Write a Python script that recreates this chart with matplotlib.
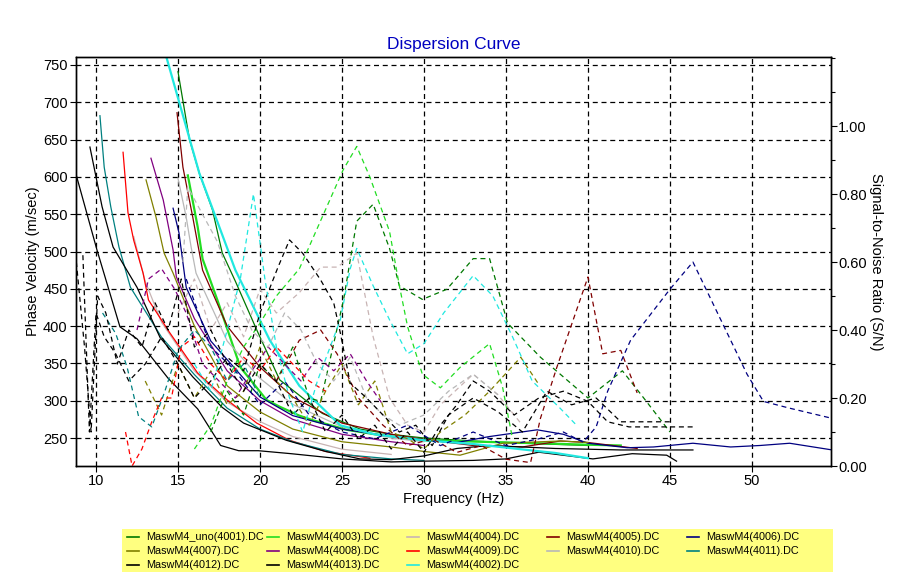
import matplotlib
matplotlib.use("Agg")
import matplotlib.pyplot as plt
from matplotlib.ticker import MultipleLocator
from matplotlib.lines import Line2D
from matplotlib.patches import Rectangle

plt.rcParams['font.family'] = ['Liberation Sans', 'DejaVu Sans']

# ---------------- data ----------------
names = ["MaswM4_uno(4001).DC", "MaswM4(4003).DC", "MaswM4(4004).DC", "MaswM4(4005).DC",
         "MaswM4(4006).DC", "MaswM4(4007).DC", "MaswM4(4008).DC", "MaswM4(4009).DC",
         "MaswM4(4010).DC", "MaswM4(4011).DC", "MaswM4(4012).DC", "MaswM4(4013).DC",
         "MaswM4(4002).DC"]
colors = ["#007800", "#22dd22", "#c8b4b4", "#800000", "#000080", "#808000", "#800080",
          "#ff0000", "#b8b8b8", "#008080", "#000000", "#000000", "#20e8e0"]

# dispersion curves (frequency Hz, phase velocity m/s)
f_4001 = [15.0, 15.7, 16.3, 17.1, 17.7, 18.5, 19.8, 21.2, 23.8, 26.1, 28, 30, 33, 36, 40]
v_4001 = [741, 650, 605, 556, 498, 460, 395, 328, 283, 262, 255, 250, 246, 243, 240]
f_4003 = [15.6, 16.2, 16.5, 17.4, 18.8, 20.4, 21.2, 22.4, 23.2, 25.3, 27.3, 30, 33.4, 37, 40, 42]
v_4003 = [602, 533, 490, 435, 345, 301, 292, 280, 274, 261, 254, 247, 245, 243, 241, 240]
f_4004 = [12.3, 13, 14, 16, 18, 20, 22, 25, 28]
v_4004 = [520, 460, 405, 340, 298, 272, 252, 235, 228]
f_4005 = [14.94, 15.3, 15.9, 16.5, 18, 20, 22, 25, 28, 30, 33, 36, 38.3, 40, 43]
v_4005 = [686, 613, 546, 475, 400, 345, 305, 270, 255, 248, 240, 238, 246, 244, 236]
f_4006 = [14.7, 15.06, 15.5, 17, 20, 22, 25, 28, 30, 32, 34, 36.9, 38.5, 40, 42.4, 44, 46.4,
          48.7, 50.5, 52.3, 54.9]
v_4006 = [558, 525, 452, 380, 305, 280, 262, 252, 247, 244, 252, 261, 255, 243, 237, 238, 243,
          238, 240, 243, 234]
f_4007 = [13.05, 13.66, 14.15, 14.7, 16, 18, 20, 22, 25, 28, 30, 32.2, 34.8, 38.3, 40]
v_4007 = [596, 546, 498, 471, 400, 320, 285, 262, 245, 238, 232, 227, 243, 246, 244]
f_4008 = [13.35, 14.1, 14.7, 14.9, 16, 18, 20, 22, 25, 28, 30]
v_4008 = [625, 569, 502, 466, 410, 340, 300, 275, 255, 245, 240]
f_4009 = [11.65, 11.95, 12.3, 12.87, 13.2, 14.5, 16.2, 18.0, 19.8, 21.8, 24, 26.7]
v_4009 = [633, 552, 515, 471, 435, 391, 337, 301, 270, 247, 232, 223]
f_4010 = [15.0, 15.5, 15.8, 16.1, 18, 20, 22, 25, 28, 30]
v_4010 = [598, 546, 506, 471, 380, 330, 295, 265, 250, 245]
f_4011 = [10.24, 10.5, 10.9, 11.4, 12.1, 14, 16, 18, 20, 22, 25, 28, 30]
v_4011 = [682, 613, 560, 506, 452, 385, 335, 290, 262, 245, 228, 222, 220]
f_4012 = [9.63, 10.37, 11.04, 12.5, 13.9, 15.9, 17.7, 19.0, 21.6, 24, 26.1, 28, 30, 32, 34,
          38, 42, 46.4]
v_4012 = [640, 560, 506, 452, 385, 332, 291, 270, 247, 232, 222, 221, 226, 236, 240, 236, 234, 234]
f_4013 = [8.8, 10.06, 11.46, 12.5, 14.4, 16.2, 17.6, 18.7, 19.9, 21.9, 25, 28, 30, 33, 35, 37,
          40.3, 42.7, 44.8, 45.4]
v_4013 = [602, 502, 399, 383, 330, 289, 240, 233, 233, 229, 222, 218, 219, 220, 222, 231, 222,
          229, 227, 219]
f_4002 = [14.0, 14.3, 16.3, 18.5, 20.6, 22.4, 24.9, 27, 30, 33, 36.3, 38, 40]
v_4002 = [800, 760, 605, 475, 381, 320, 267, 255, 247, 242, 234, 230, 223]

# signal-to-noise curves (frequency Hz, S/N)
sf_4001 = [17, 18, 19, 20, 21, 22, 23, 23.7, 25.1, 25.9, 26.9, 27.9, 28.5, 29.9, 31.4, 33.0,
           34.0, 35.1, 37.1, 40.0, 42.1, 43.4, 45.0]
sn_4001 = [0.10, 0.22, 0.15, 0.30, 0.25, 0.35, 0.20, 0.19, 0.49, 0.72, 0.77, 0.64, 0.53, 0.49,
           0.52, 0.61, 0.61, 0.42, 0.32, 0.20, 0.28, 0.20, 0.10]
sf_4003 = [16, 17, 18, 19, 20, 21, 22.4, 23.5, 25.06, 25.9, 26.7, 27.9, 28.5, 29.0, 29.9, 31.0,
           32.2, 34.0, 34.8, 35.4]
sn_4003 = [0.05, 0.12, 0.25, 0.35, 0.42, 0.50, 0.58, 0.70, 0.87, 0.94, 0.85, 0.69, 0.53, 0.41,
           0.27, 0.23, 0.29, 0.36, 0.23, 0.08]
sf_4004 = [15, 16, 17, 18, 19, 20, 21, 22.4, 23.7, 24.7, 25.9, 26.9, 27.9, 29, 30, 31, 33,
           34.5, 36]
sn_4004 = [0.45, 0.55, 0.40, 0.48, 0.38, 0.52, 0.45, 0.51, 0.585, 0.585, 0.626, 0.38, 0.20,
           0.12, 0.10, 0.18, 0.27, 0.21, 0.12]
sf_4005 = [21, 22.4, 23.7, 24.7, 26, 27.5, 29, 30.5, 32, 33.5, 35, 36.5, 37.1, 38.1, 40, 40.9,
           42, 43]
sn_4005 = [0.25, 0.37, 0.40, 0.33, 0.20, 0.12, 0.06, 0.08, 0.04, 0.06, 0.02, 0.01, 0.14, 0.29,
           0.556, 0.33, 0.34, 0.215]
sf_4006 = [15.5, 17, 18.5, 20, 21.5, 23, 25, 27, 29, 31, 33, 35, 37, 38.5, 39.7, 40.5, 41.2,
           42.6, 45, 46.4, 48, 49.7, 50.7, 52.3, 54.9]
sn_4006 = [0.55, 0.35, 0.28, 0.18, 0.25, 0.15, 0.10, 0.08, 0.12, 0.06, 0.10, 0.06, 0.08, 0.10,
           0.07, 0.115, 0.22, 0.37, 0.52, 0.60, 0.44, 0.27, 0.19, 0.17, 0.14]
sf_4007 = [13, 14, 15, 16, 17, 18, 19, 20, 21, 22, 23, 24, 25, 26, 27, 28, 29, 30, 31, 32.5,
           34, 35.9, 37]
sn_4007 = [0.25, 0.15, 0.30, 0.20, 0.28, 0.18, 0.22, 0.35, 0.25, 0.20, 0.12, 0.22, 0.30, 0.18,
           0.25, 0.10, 0.08, 0.05, 0.10, 0.15, 0.22, 0.32, 0.24]
sf_4008 = [12.5, 13.2, 14, 14.8, 15.5, 16.5, 17.5, 18.5, 19.5, 20.5, 21.5, 22.5, 23.5, 24.5,
           25.5, 26.5, 27.5]
sn_4008 = [0.40, 0.55, 0.58, 0.52, 0.45, 0.30, 0.25, 0.20, 0.28, 0.35, 0.30, 0.25, 0.32, 0.28,
           0.33, 0.25, 0.18]
sf_4009 = [11.8, 12.2, 12.8, 13.4, 14, 14.6, 15.2, 16, 17, 18, 19, 20, 21, 22, 23, 24]
sn_4009 = [0.10, 0.0, 0.05, 0.13, 0.20, 0.20, 0.35, 0.38, 0.30, 0.25, 0.32, 0.28, 0.35, 0.30,
           0.25, 0.22]
sf_4010 = [15.3, 15.6, 16.5, 17.4, 18.5, 19.5, 20.5, 21.5, 22.5, 23.5, 24.5, 25.5, 26.5, 27.5,
           28.5, 30, 31.5, 33, 34.5]
sn_4010 = [0.60, 0.82, 0.74, 0.66, 0.50, 0.40, 0.35, 0.45, 0.40, 0.30, 0.25, 0.32, 0.20, 0.15,
           0.12, 0.15, 0.22, 0.27, 0.21]
sf_4011 = [10.4, 11.2, 11.9, 12.6, 13.4, 14.2, 15, 16, 17, 18, 19, 20]
sn_4011 = [0.45, 0.39, 0.29, 0.145, 0.115, 0.22, 0.34, 0.40, 0.35, 0.25, 0.30, 0.20]
sf_4012 = [9.2, 9.6, 10.0, 10.5, 11.2, 12, 13, 14, 15, 16, 17, 18, 19, 20, 21.1, 21.8, 22.6,
           23.7, 24.5, 24.9, 25.5, 26.5, 27.5, 28.5, 29.5, 30.5, 31.5, 33, 34.5, 36, 37.5, 39,
           40.5, 42, 43.5, 45]
sn_4012 = [0.62, 0.10, 0.45, 0.38, 0.33, 0.25, 0.30, 0.38, 0.30, 0.20, 0.25, 0.32, 0.28, 0.45,
           0.585, 0.665, 0.626, 0.547, 0.479, 0.391, 0.244, 0.20, 0.15, 0.10, 0.12, 0.06, 0.15,
           0.20, 0.16, 0.10, 0.22, 0.18, 0.20, 0.13, 0.13, 0.13]
sf_4013 = [8.8, 9.3, 9.7, 10.1, 10.6, 11.3, 12, 12.8, 13.6, 14.4, 15.2, 16, 17, 18, 19, 20, 21,
           22, 23, 24, 25, 26, 27, 28, 29, 30, 31, 32, 33, 34, 35.5, 37, 38.5, 40, 41.2, 42.5,
           44, 46.4]
sn_4013 = [0.60, 0.35, 0.10, 0.50, 0.45, 0.30, 0.40, 0.35, 0.48, 0.40, 0.55, 0.35, 0.40, 0.30,
           0.22, 0.30, 0.25, 0.15, 0.20, 0.10, 0.15, 0.08, 0.12, 0.05, 0.10, 0.04, 0.12, 0.18,
           0.25, 0.22, 0.15, 0.20, 0.22, 0.19, 0.13, 0.115, 0.115, 0.115]
sf_4002 = [16, 17, 18, 18.8, 19.6, 20.3, 21, 21.8, 22.6, 23.5, 24.9, 25.5, 25.9, 26.9, 27.9,
           29.0, 30.0, 31.2, 33.0, 34.2, 35.4, 36.6, 38.3, 39.3]
sn_4002 = [0.30, 0.22, 0.40, 0.55, 0.80, 0.55, 0.35, 0.20, 0.10, 0.25, 0.43, 0.58, 0.64, 0.53,
           0.43, 0.33, 0.36, 0.45, 0.56, 0.50, 0.38, 0.25, 0.17, 0.12]

disp = [(f_4001, v_4001), (f_4003, v_4003), (f_4004, v_4004), (f_4005, v_4005),
        (f_4006, v_4006), (f_4007, v_4007), (f_4008, v_4008), (f_4009, v_4009),
        (f_4010, v_4010), (f_4011, v_4011), (f_4012, v_4012), (f_4013, v_4013),
        (f_4002, v_4002)]
snr = [(sf_4001, sn_4001), (sf_4003, sn_4003), (sf_4004, sn_4004), (sf_4005, sn_4005),
       (sf_4006, sn_4006), (sf_4007, sn_4007), (sf_4008, sn_4008), (sf_4009, sn_4009),
       (sf_4010, sn_4010), (sf_4011, sn_4011), (sf_4012, sn_4012), (sf_4013, sn_4013),
       (sf_4002, sn_4002)]

x_ticks = [10, 15, 20, 25, 30, 35, 40, 45, 50]
y_ticks = [250, 300, 350, 400, 450, 500, 550, 600, 650, 700, 750]
snr_ticks = [0.0, 0.2, 0.4, 0.6, 0.8, 1.0]

# ---------------- figure ----------------
W, H = 910, 588
fig = plt.figure(figsize=(W / 100, H / 100), dpi=100)
fig.patch.set_facecolor("white")
ax = fig.add_axes([76/W, 122/H, 755/W, 409/H])
ax2 = ax.twinx()

ax.set_xlim(8.78, 54.82)
ax.set_ylim(212.5, 760.7)
ax2.set_ylim(0.0, 1.203)

ax.set_xticks(x_ticks)
ax.set_yticks(y_ticks)
ax2.set_yticks(snr_ticks)
ax2.set_yticklabels([f"{t:.2f}" for t in snr_ticks])
ax2.yaxis.set_minor_locator(MultipleLocator(0.1))

ax.grid(True, color="black", linestyle=(0, (4, 3)), linewidth=0.9)
ax.set_axisbelow(True)

lw_thick = {1: 1.6, 12: 1.6}
for i, ((fx, vy), (sx, sy)) in enumerate(zip(disp, snr)):
    lw = lw_thick.get(i, 0.9)
    ax.plot(fx, vy, color=colors[i], linewidth=lw, solid_joinstyle="round")
    ax2.plot(sx, sy, color=colors[i], linewidth=0.9, linestyle=(0, (4, 3)))

for a in (ax, ax2):
    for s in a.spines.values():
        s.set_linewidth(1.0)
ax.tick_params(axis="both", labelsize=10.5, length=4, width=0.8, direction="out", pad=2)
ax2.tick_params(axis="y", labelsize=10.5, length=4, width=0.8, direction="out", pad=1)
ax2.tick_params(axis="y", which="minor", length=3, width=0.8)

ax.set_xlabel("Frequency (Hz)", fontsize=10.5, labelpad=3)
ax.set_ylabel("Phase Velocity (m/sec)", fontsize=10.5, labelpad=2)
ax2.set_ylabel("Signal-to-Noise Ratio (S/N)", fontsize=10.5, rotation=270, labelpad=12)
ax.set_title("Dispersion Curve", fontsize=12.5, color="#0000c0", pad=6)

# legend: yellow box with 5 evenly spaced columns, filled row by row
fig.add_artist(Rectangle((122/W, 1 - 572/H), 711/W, 43/H, transform=fig.transFigure,
                         facecolor="#ffff80", edgecolor="none", zorder=0))
col_x = [127, 267, 407, 547, 687]
row_y = [537, 551, 565]
for k, (nm, c) in enumerate(zip(names, colors)):
    r, cidx = divmod(k, 5)
    x0, y0 = col_x[cidx], row_y[r]
    fig.add_artist(Line2D([x0/W, (x0 + 12)/W], [1 - y0/H, 1 - y0/H], color=c,
                          linewidth=1.2, transform=fig.transFigure))
    fig.text((x0 + 19)/W, 1 - y0/H, nm, fontsize=7.8, va="center", ha="left")

fig.savefig("out.png", dpi=100, facecolor="white")
